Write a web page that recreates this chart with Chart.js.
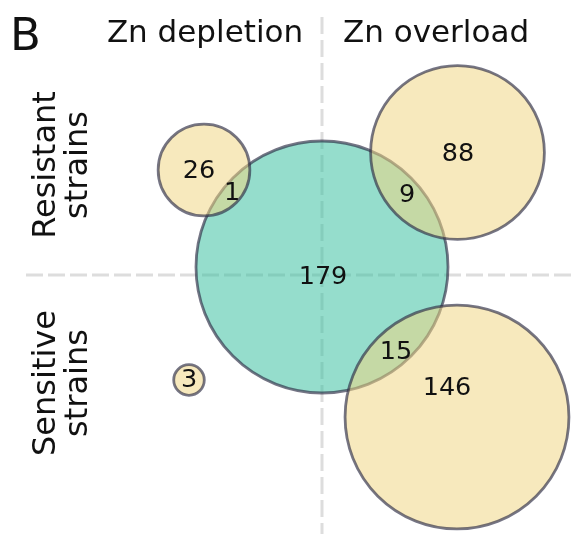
<!DOCTYPE html>
<html>
<head>
<meta charset="utf-8">
<script src="https://cdn.jsdelivr.net/npm/chart.js@4"></script>
<style>
  html, body { margin: 0; padding: 0; background: #ffffff; }
  canvas { display: block; }
</style>
</head>
<body>
<canvas id="venn" width="574" height="534"></canvas>
<script>
// Strain counts per region of the diagram
const coreOnly = 179;            // strains in the central set only
const depResistantOnly = 26;     // Zn depletion, resistant
const depResistantShared = 1;
const ovlResistantOnly = 88;     // Zn overload, resistant
const ovlResistantShared = 9;
const ovlSensitiveOnly = 146;    // Zn overload, sensitive
const ovlSensitiveShared = 15;
const depSensitiveOnly = 3;      // Zn depletion, sensitive

// Set sizes (circle area is proportional to these)
const coreTotal = coreOnly + depResistantShared + ovlResistantShared + ovlSensitiveShared;
const yellowTotals = [
  depResistantOnly + depResistantShared,
  ovlResistantOnly + ovlResistantShared,
  ovlSensitiveOnly + ovlSensitiveShared,
  depSensitiveOnly
];

// Circle centres (x: depletion < 0 < overload, y: sensitive < 0 < resistant)
const yellowX = [-1.18, 1.355, 1.35, -1.33];
const yellowY = [1.05, 1.225, -1.42, -1.05];
const coreX = [0];
const coreY = [0.08];

// Region labels
const regionText = ['26', '1', '88', '9', '179', '15', '146', '3'];
const regionX = [-1.23, -0.90, 1.36, 0.85, 0.01, 0.74, 1.25, -1.33];
const regionY = [1.04, 0.82, 1.21, 0.80, -0.02, -0.77, -1.13, -1.05];

// Header and side labels
const columnTitles = ['Zn depletion', 'Zn overload'];
const rowTitles = [['Resistant', 'strains'], ['Sensitive', 'strains']];
const panelLetter = 'B';

// Radius scale: sqrt(count) -> data units
const radiusPerSqrt = 1.26 / Math.sqrt(204);

const FONT = '"DejaVu Sans", "Liberation Sans", sans-serif';

function pxRadius(ctx) {
  const raw = ctx.raw;
  if (!raw || raw.n === undefined) return 0;
  const xs = ctx.chart.scales.x;
  const r = radiusPerSqrt * Math.sqrt(raw.n);
  const px = Math.abs(xs.getPixelForValue(r) - xs.getPixelForValue(0));
  return isFinite(px) ? px : 0;
}

const labelsPlugin = {
  id: 'vennLabels',
  afterDatasetsDraw(chart) {
    const c = chart.ctx;
    const xs = chart.scales.x, ys = chart.scales.y;
    c.save();
    c.fillStyle = '#111111';
    // region counts
    c.font = '25.5px ' + FONT;
    c.textAlign = 'center';
    c.textBaseline = 'middle';
    regionText.forEach((t, i) => {
      c.fillText(t, xs.getPixelForValue(regionX[i]), ys.getPixelForValue(regionY[i]));
    });
    // column titles
    c.font = '31px ' + FONT;
    c.textBaseline = 'alphabetic';
    c.fillText(columnTitles[0], 205, 42);
    c.fillText(columnTitles[1], 436, 42);
    // panel letter
    c.font = '45px ' + FONT;
    c.textAlign = 'left';
    c.fillText(panelLetter, 10, 50);
    // row titles (rotated)
    c.font = '32px ' + FONT;
    c.textAlign = 'center';
    const rowCentres = [165, 383];
    rowTitles.forEach((lines, k) => {
      c.save();
      c.translate(0, rowCentres[k]);
      c.rotate(-Math.PI / 2);
      c.fillText(lines[0], 0, 55);
      c.fillText(lines[1], 0, 87);
      c.restore();
    });
    c.restore();
  }
};

const yellowData = yellowTotals.map((n, i) => ({ x: yellowX[i], y: yellowY[i], n: n }));
const coreData = [{ x: coreX[0], y: coreY[0], n: coreTotal }];

new Chart(document.getElementById('venn'), {
  type: 'scatter',
  data: {
    datasets: [
      {
        label: 'Zn phenotype sets',
        data: yellowData,
        backgroundColor: 'rgba(240, 214, 131, 0.53)',
        borderColor: 'rgba(45, 45, 70, 0.66)',
        borderWidth: 2.8,
        pointRadius: pxRadius,
        pointHoverRadius: pxRadius,
        order: 0
      },
      {
        label: 'Core set',
        data: coreData,
        backgroundColor: 'rgba(54, 191, 159, 0.53)',
        borderColor: 'rgba(45, 45, 70, 0.66)',
        borderWidth: 2.8,
        pointRadius: pxRadius,
        pointHoverRadius: pxRadius,
        order: 1
      },
      {
        type: 'line',
        label: 'vertical divider',
        data: [{ x: 0, y: 2.58 }, { x: 0, y: -2.6 }],
        borderColor: '#dddddd',
        borderWidth: 3,
        borderDash: [17, 6],
        pointRadius: 0,
        fill: false,
        order: 5
      },
      {
        type: 'line',
        label: 'horizontal divider',
        data: [{ x: -2.96, y: 0 }, { x: 2.53, y: 0 }],
        borderColor: '#dddddd',
        borderWidth: 3,
        borderDash: [17, 5],
        pointRadius: 0,
        fill: false,
        order: 5
      }
    ]
  },
  options: {
    responsive: false,
    animation: false,
    events: [],
    layout: { padding: 0 },
    plugins: { legend: { display: false }, tooltip: { enabled: false } },
    scales: {
      x: { type: 'linear', min: -3.22, max: 2.52, display: false },
      y: { type: 'linear', min: -2.59, max: 2.75, display: false }
    }
  },
  plugins: [labelsPlugin]
});
</script>
</body>
</html>
